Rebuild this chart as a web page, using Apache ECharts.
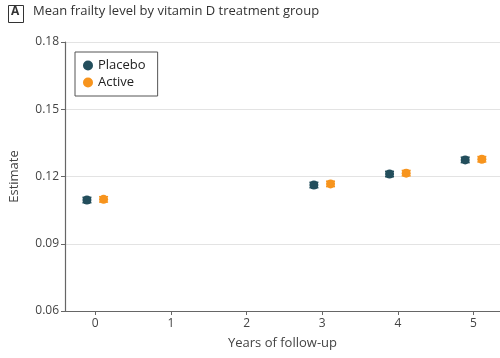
<!DOCTYPE html>
<html>
<head>
<meta charset="utf-8">
<script src="https://cdn.jsdelivr.net/npm/echarts@6/dist/echarts.min.js"></script>
<style>
html,body{margin:0;padding:0;background:#fff;}
#chart{width:500px;height:358px;}
</style>
</head>
<body>
<div id="chart"></div>
<script>
// Follow-up years and mean frailty estimates with 95% CI per treatment group
const years = [0, 3, 4, 5];
const xTicks = [0, 1, 2, 3, 4, 5];
const placeboEst = [0.1095, 0.1162, 0.1211, 0.1274];
const placeboLow = [0.1083, 0.1150, 0.1199, 0.1262];
const placeboHigh = [0.1107, 0.1174, 0.1223, 0.1286];
const activeEst = [0.1098, 0.1167, 0.1215, 0.1277];
const activeLow = [0.1086, 0.1155, 0.1203, 0.1265];
const activeHigh = [0.1110, 0.1179, 0.1227, 0.1289];

const dodge = 0.11;
const placeboColor = '#234e5c';
const activeColor = '#f7941d';
const font = '"Open Sans", sans-serif';

function points(est, shift) {
  return years.map((y, i) => [y + shift, est[i]]);
}
function bars(low, high, shift) {
  return years.map((y, i) => [y + shift, low[i], high[i]]);
}
function errorBar(color) {
  return function (params, api) {
    const x = api.value(0);
    const lo = api.coord([x, api.value(1)]);
    const hi = api.coord([x, api.value(2)]);
    const w = 4.5;
    const style = { stroke: color, lineWidth: 1.5 };
    return {
      type: 'group',
      children: [
        { type: 'line', shape: { x1: lo[0], y1: lo[1], x2: hi[0], y2: hi[1] }, style },
        { type: 'line', shape: { x1: lo[0] - w, y1: lo[1], x2: lo[0] + w, y2: lo[1] }, style },
        { type: 'line', shape: { x1: hi[0] - w, y1: hi[1], x2: hi[0] + w, y2: hi[1] }, style }
      ]
    };
  };
}

const chart = echarts.init(document.getElementById('chart'), null, { renderer: 'canvas' });
chart.setOption({
  animation: false,
  backgroundColor: '#fff',
  graphic: [
    { type: 'rect', left: 8, top: 5, shape: { width: 15, height: 17 },
      style: { fill: '#fff', stroke: '#333', lineWidth: 1 } },
    { type: 'text', left: 11, top: 6,
      style: { text: 'A', font: 'bold 12px ' + font, fill: '#333' } },
    { type: 'text', left: 33, top: 5,
      style: { text: 'Mean frailty level by vitamin D treatment group', font: '13px ' + font, fill: '#333' } }
  ],
  grid: { left: 62, top: 42, right: 0, bottom: 47 },
  legend: {
    left: 75, top: 52, orient: 'vertical',
    padding: [7, 12, 7, 8],
    itemGap: 4,
    itemWidth: 10, itemHeight: 10,
    borderColor: '#555', borderWidth: 1,
    textStyle: { fontFamily: font, fontSize: 13, color: '#222' },
    data: [
      { name: 'Placebo', icon: 'circle' },
      { name: 'Active', icon: 'circle' }
    ]
  },
  xAxis: {
    type: 'value', min: -0.4, max: 5.35,
    name: 'Years of follow-up', nameLocation: 'middle', nameGap: 26,
    nameTextStyle: { fontFamily: font, fontSize: 13, color: '#444' },
    axisLine: { onZero: false, lineStyle: { color: '#666', width: 1.2 } },
    axisTick: { show: true, customValues: xTicks, length: 4, lineStyle: { color: '#666' } },
    axisLabel: { customValues: xTicks, fontFamily: font, fontSize: 12, color: '#444', margin: 7 },
    splitLine: { show: false }
  },
  yAxis: {
    type: 'value', min: 0.06, max: 0.18, interval: 0.03,
    name: 'Estimate', nameLocation: 'middle', nameGap: 44,
    nameTextStyle: { fontFamily: font, fontSize: 13, color: '#444' },
    axisLine: { show: true, onZero: false, lineStyle: { color: '#666', width: 1.2 } },
    axisTick: { show: true, length: 4, lineStyle: { color: '#666' } },
    axisLabel: { fontFamily: font, fontSize: 12, color: '#444', margin: 6,
      formatter: v => v.toFixed(2) },
    splitLine: { show: true, lineStyle: { color: '#e3e3e3', width: 1 } }
  },
  series: [
    { name: 'Placebo', type: 'custom', renderItem: errorBar(placeboColor),
      data: bars(placeboLow, placeboHigh, -dodge), z: 2, silent: true,
      itemStyle: { color: placeboColor } },
    { name: 'Active', type: 'custom', renderItem: errorBar(activeColor),
      data: bars(activeLow, activeHigh, dodge), z: 2, silent: true,
      itemStyle: { color: activeColor } },
    { name: 'Placebo', type: 'scatter', symbol: 'circle', symbolSize: 9,
      data: points(placeboEst, -dodge), z: 3, itemStyle: { color: placeboColor, opacity: 1 } },
    { name: 'Active', type: 'scatter', symbol: 'circle', symbolSize: 9,
      data: points(activeEst, dodge), z: 3, itemStyle: { color: activeColor, opacity: 1 } }
  ]
});
</script>
</body>
</html>
